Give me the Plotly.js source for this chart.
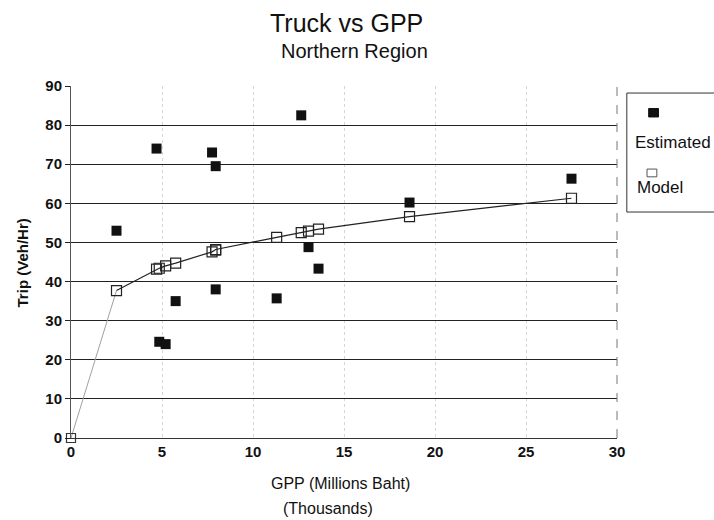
<!DOCTYPE html>
<html>
<head>
<meta charset="utf-8">
<script src="https://cdn.plot.ly/plotly-3.0.1.min.js"></script>
<style>html,body{margin:0;padding:0;background:#fff;}#chart{width:714px;height:520px;}</style>
</head>
<body>
<div id="chart"></div>
<script>
// GPP (millions Baht, thousands) for each province observation
const gpp = [2.5, 4.7, 4.85, 5.2, 5.75, 7.75, 7.95, 7.95, 11.3, 12.65, 13.05, 13.6, 18.6, 27.5];
// Observed (estimated) truck trips, veh/hr
const estimated = [53, 74, 24.6, 24, 35, 73, 69.5, 38, 35.7, 82.5, 48.8, 43.3, 60.2, 66.3];
// Model curve points (includes origin)
const modelX = [0, 2.5, 4.7, 4.85, 5.2, 5.75, 7.75, 7.95, 7.95, 11.3, 12.65, 13.05, 13.6, 18.6, 27.5];
const modelY = [0, 37.7, 43.2, 43.4, 44.0, 44.7, 47.6, 48.0, 48.2, 51.3, 52.5, 52.9, 53.4, 56.6, 61.3];
const xTicks = [0, 5, 10, 15, 20, 25, 30];
const yTicks = [0, 10, 20, 30, 40, 50, 60, 70, 80, 90];
const legendNames = ["Estimated", "Model"];
const titleText = "Truck vs GPP";
const subtitleText = "Northern Region";
const xTitle1 = "GPP (Millions Baht)";
const xTitle2 = "(Thousands)";
const yTitle = "Trip (Veh/Hr)";

const FONT = "Liberation Sans, Arial, sans-serif";

const traces = [
  {
    x: modelX.slice(0, 2), y: modelY.slice(0, 2), mode: "lines",
    line: {color: "#a0a0a0", width: 1}, showlegend: false, hoverinfo: "skip"
  },
  {
    x: modelX.slice(1), y: modelY.slice(1), mode: "lines+markers", name: legendNames[1],
    line: {color: "#222", width: 1.2},
    marker: {symbol: "square-open", size: 10, color: "#222", line: {width: 1.2}},
    showlegend: false
  },
  {
    x: modelX.slice(0, 1), y: modelY.slice(0, 1), mode: "markers",
    marker: {symbol: "square-open", size: 9, color: "#333", line: {width: 1.2}},
    showlegend: false, cliponaxis: false
  },
  {
    x: gpp, y: estimated, mode: "markers", name: legendNames[0],
    marker: {symbol: "square", size: 10, color: "#111"},
    showlegend: false
  }
];

const layout = {
  width: 714, height: 520,
  margin: {l: 71, r: 97, t: 86, b: 82},
  paper_bgcolor: "#fff", plot_bgcolor: "#fff",
  font: {family: FONT, color: "#111"},
  xaxis: {
    range: [0, 30], tickvals: xTicks, ticktext: xTicks.map(String),
    showgrid: true, gridcolor: "#d6d6d6", griddash: "dot", gridwidth: 1,
    zeroline: false, showline: true, linecolor: "#333", linewidth: 1, mirror: false,
    ticks: "", tickfont: {family: FONT, size: 15, weight: "bold", color: "#111"}
  },
  yaxis: {
    range: [0, 90], tickvals: yTicks, ticktext: yTicks.map(String),
    showgrid: true, gridcolor: "#222", gridwidth: 1.2,
    zeroline: false, showline: true, linecolor: "#555", linewidth: 1,
    ticks: "outside", ticklen: 5, tickcolor: "#222",
    tickfont: {family: FONT, size: 15, weight: "bold", color: "#111"}
  },
  shapes: [
    {type: "line", xref: "paper", yref: "paper", x0: 1, x1: 1, y0: 0, y1: 1, line: {color: "#777", width: 1, dash: "dash"}},
    {type: "rect", xref: "paper", yref: "paper", x0: 1.018, x1: 1.2, y0: 0.642, y1: 0.98, line: {color: "#333", width: 1}, fillcolor: "rgba(0,0,0,0)"},
    {type: "rect", xref: "paper", yref: "paper", x0: 1.058, x1: 1.076, y0: 0.912, y1: 0.936, line: {color: "#111", width: 1}, fillcolor: "#111"},
    {type: "rect", xref: "paper", yref: "paper", x0: 1.055, x1: 1.073, y0: 0.742, y1: 0.764, line: {color: "#555", width: 1}, fillcolor: "#fff"}
  ],
  annotations: [
    {text: titleText, xref: "paper", yref: "paper", x: 0.504, y: 1.178, xanchor: "center", yanchor: "middle", showarrow: false, font: {family: FONT, size: 25, color: "#111"}},
    {text: subtitleText, xref: "paper", yref: "paper", x: 0.52, y: 1.1, xanchor: "center", yanchor: "middle", showarrow: false, font: {family: FONT, size: 20, color: "#111"}},
    {text: xTitle1, xref: "paper", yref: "paper", x: 0.493, y: -0.128, xanchor: "center", yanchor: "middle", showarrow: false, font: {family: FONT, size: 16, color: "#111"}},
    {text: xTitle2, xref: "paper", yref: "paper", x: 0.471, y: -0.199, xanchor: "center", yanchor: "middle", showarrow: false, font: {family: FONT, size: 16, color: "#111"}},
    {text: "<b>" + yTitle + "</b>", xref: "paper", yref: "paper", x: -0.089, y: 0.497, xanchor: "center", yanchor: "middle", textangle: -90, showarrow: false, font: {family: FONT, size: 15, color: "#111"}},
    {text: legendNames[0], xref: "paper", yref: "paper", x: 1.029, y: 0.840, xanchor: "left", yanchor: "middle", showarrow: false, font: {family: FONT, size: 17, color: "#111"}},
    {text: legendNames[1], xref: "paper", yref: "paper", x: 1.033, y: 0.712, xanchor: "left", yanchor: "middle", showarrow: false, font: {family: FONT, size: 17, color: "#111"}}
  ]
};

Plotly.newPlot("chart", traces, layout, {displayModeBar: false, staticPlot: true});
</script>
</body>
</html>
